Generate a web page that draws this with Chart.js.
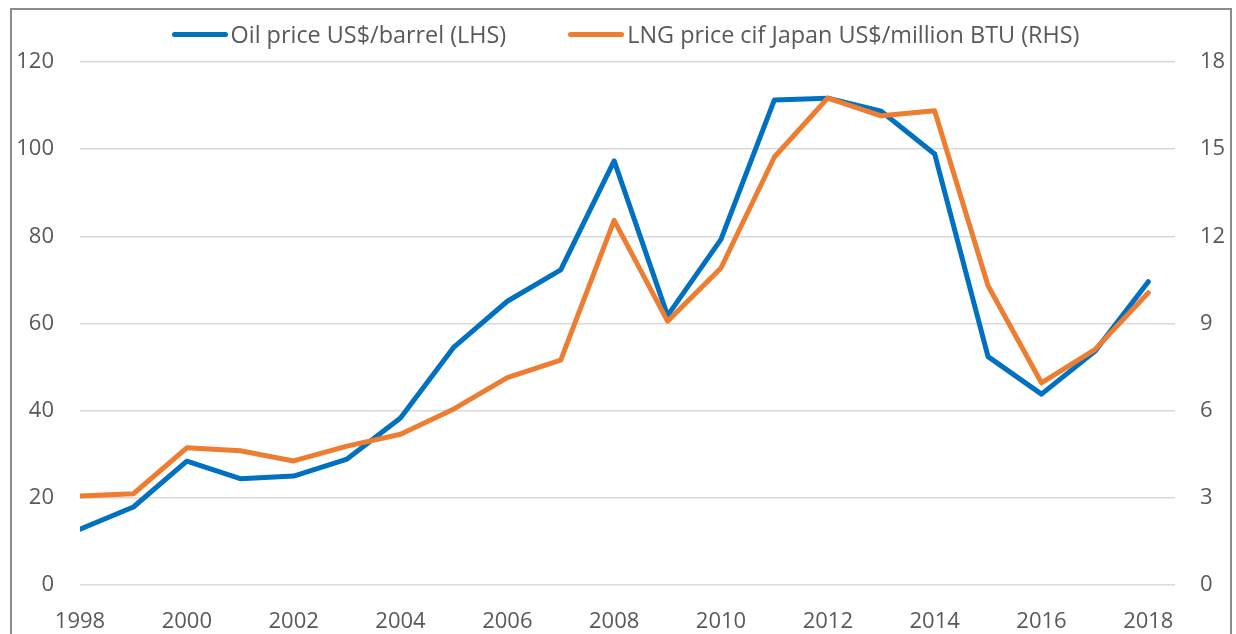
<!DOCTYPE html>
<html>
<head>
<meta charset="utf-8">
<script src="https://cdn.jsdelivr.net/npm/chart.js@4/dist/chart.umd.min.js"></script>
<style>
  html, body { margin: 0; padding: 0; background: #fff; overflow: hidden; }
  #wrap { position: relative; width: 1236px; height: 634px; }
  #frame { position: absolute; left: 10px; top: 8px; width: 1222px; height: 700px;
           border: 2px solid #8c8c8c; box-sizing: border-box; }
  #priceChart { position: absolute; left: 0; top: 0; }
  #legend { position: absolute; left: 0; top: 19px; width: 1251px; display: flex;
            justify-content: center; font-family: "Open Sans", sans-serif; font-size: 23.4px;
            color: #595959; line-height: 30px; }
  .item { display: flex; align-items: center; margin: 0 31px; }
  .swatch { width: 56px; height: 5px; border-radius: 3px; margin-right: 3px; }
</style>
</head>
<body>
<div id="wrap">
  <div id="frame"></div>
  <canvas id="priceChart" width="1236" height="634"></canvas>
  <div id="legend"></div>
</div>
<script>
// 연도
const years = [1998, 1999, 2000, 2001, 2002, 2003, 2004, 2005, 2006, 2007, 2008,
               2009, 2010, 2011, 2012, 2013, 2014, 2015, 2016, 2017, 2018];

// 유가 US$/barrel (왼쪽 축)
const oilPrice = [12.8, 17.9, 28.4, 24.4, 25.0, 28.9, 38.3, 54.6, 65.1, 72.3, 97.3,
                  61.8, 79.3, 111.3, 111.7, 108.7, 98.9, 52.4, 43.8, 53.6, 69.6];

// LNG 가격 cif Japan US$/million BTU (오른쪽 축)
const lngPrice = [3.06, 3.14, 4.72, 4.62, 4.27, 4.78, 5.19, 6.06, 7.14, 7.74, 12.55,
                  9.08, 10.91, 14.73, 16.76, 16.15, 16.32, 10.3, 6.96, 8.1, 10.06];

const oilLabel = 'Oil price US$/barrel (LHS)';
const lngLabel = 'LNG price cif Japan US$/million BTU (RHS)';

const oilColor = '#0070c0';
const lngColor = '#ed7d31';
const textColor = '#595959';
const font = { family: '"Open Sans", sans-serif', size: 22 };

function toPoints(values) {
    return years.map((yr, i) => ({ x: yr, y: values[i] }));
}

const datasets = [
    { label: oilLabel, data: toPoints(oilPrice), yAxisID: 'yOil', borderColor: oilColor },
    { label: lngLabel, data: toPoints(lngPrice), yAxisID: 'yLng', borderColor: lngColor }
].map(ds => Object.assign(ds, {
    backgroundColor: ds.borderColor,
    borderWidth: 5,
    pointRadius: 0,
    tension: 0,
    fill: false,
    borderCapStyle: 'round',
    borderJoinStyle: 'round'
}));

// LNG가 위에 그려지도록 순서 지정
datasets[0].order = 2;
datasets[1].order = 1;

const ctx = document.getElementById('priceChart').getContext('2d');
const chart = new Chart(ctx, {
    type: 'line',
    data: { datasets: datasets },
    options: {
        responsive: false,
        animation: false,
        layout: { padding: { top: 62, left: 0, right: 0, bottom: 0 } },
        plugins: {
            legend: { display: false },
            tooltip: { enabled: false }
        },
        scales: {
            x: {
                type: 'linear',
                min: 1998,
                max: 2018.5,
                grid: { display: false },
                border: { display: false },
                ticks: {
                    stepSize: 2,
                    includeBounds: false,
                    color: textColor,
                    font: font,
                    padding: 16,
                    maxRotation: 0,
                    callback: v => String(v)
                },
                afterFit: s => { s.height = 49; }
            },
            yOil: {
                position: 'left',
                min: 0,
                max: 120,
                grid: { color: '#d9d9d9', lineWidth: 1.5, drawTicks: false },
                border: { display: false },
                ticks: { stepSize: 20, color: textColor, font: font, padding: 26 },
                afterFit: s => { s.width = 80; }
            },
            yLng: {
                position: 'right',
                min: 0,
                max: 18,
                grid: { display: false, drawTicks: false },
                border: { display: false },
                ticks: { stepSize: 3, color: textColor, font: font, padding: 25 },
                afterFit: s => { s.width = 61; }
            }
        }
    }
});

// HTML 범례
const legendEl = document.getElementById('legend');
datasets.forEach(ds => {
    const item = document.createElement('div');
    item.className = 'item';
    const sw = document.createElement('span');
    sw.className = 'swatch';
    sw.style.background = ds.borderColor;
    const txt = document.createElement('span');
    txt.textContent = ds.label;
    item.appendChild(sw);
    item.appendChild(txt);
    legendEl.appendChild(item);
});
</script>
</body>
</html>
